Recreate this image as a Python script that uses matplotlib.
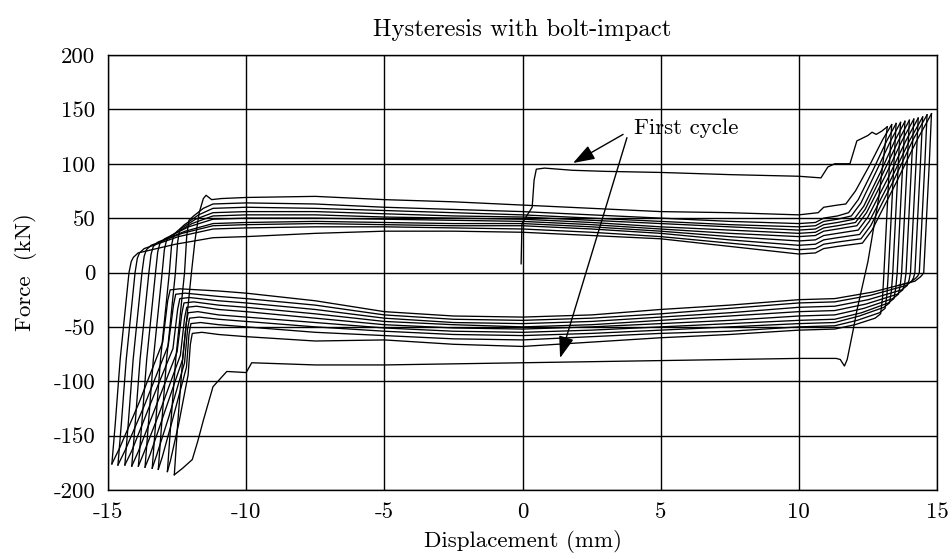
import matplotlib
matplotlib.use("Agg")
import matplotlib.pyplot as plt

plt.rcParams['font.family'] = ['cmr10', 'DejaVu Serif']
plt.rcParams['axes.unicode_minus'] = False

x_ticks = [-15, -10, -5, 0, 5, 10, 15]
y_ticks = [-200, -150, -100, -50, 0, 50, 100, 150, 200]
x_tick_labels = ['-15', '-10', '-5', '0', '5', '10', '15']
y_tick_labels = ['-200', '-150', '-100', '-50', '0', '50', '100', '150', '200']

# shared displacement points along the friction plateaus (mm)
plateau_x = [-10, -7.5, -5, -2.5, 0, 2.5, 5, 7.5, 10]

# first loading from rest, up to the first positive peak
first_x = [-0.05, -0.02, 0.15, 0.35, 0.42, 0.5, 0.8, 1.8, 3.0, 5.0, 7.5, 10.0, 10.8,
           11.05, 11.3, 11.85, 12.1, 12.5, 12.65, 12.8, 13.0, 13.2]
first_y = [8, 45, 52, 60, 85, 95, 96, 94, 93, 92, 90, 88.5, 87,
           97, 100, 100, 121, 126, 129, 127, 130, 134]

# first return (lower branch of the first cycle)
first_back_x = [13.2, 12.9, 12.5, 12.1, 11.95, 11.75, 11.65, 11.5, 11.35, 10, 7.5, 5, 2.5, 0,
                -2.5, -5, -7.5, -9.8, -10.0, -10.7, -11.2, -11.55, -11.75, -11.95, -12.3, -12.6]
first_back_y = [134, 70, 10, -35, -55, -80, -86, -80, -79, -79, -80, -81, -82, -83,
                -84, -85, -85, -83, -92, -91, -105, -136, -155, -172, -180, -186]

# upper branches (moving right), one row per cycle
up_left_x = [
    [-12.6, -12.48, -12.3, -12.1, -11.98, -11.85, -11.7, -11.55, -11.45, -11.25, -10.9],
    [-12.85, -12.73, -12.55, -12.35, -12.23, -12.15, -12.07, -11.9, -11.55, -11.2],
    [-13.18, -13.06, -12.88, -12.68, -12.56, -12.48, -12.4, -12.23, -11.72, -11.2],
    [-13.40, -13.28, -13.10, -12.90, -12.78, -12.70, -12.62, -12.45, -11.83, -11.2],
    [-13.66, -13.54, -13.36, -13.16, -13.04, -12.96, -12.88, -12.71, -11.96, -11.2],
    [-13.90, -13.78, -13.60, -13.40, -13.28, -13.20, -13.12, -12.95, -12.08, -11.2],
    [-14.14, -14.02, -13.84, -13.64, -13.52, -13.44, -13.36, -13.19, -12.2, -11.2],
    [-14.39, -14.27, -14.09, -13.89, -13.77, -13.69, -13.61, -13.44, -12.32, -11.2],
    [-14.64, -14.52, -14.34, -14.14, -14.02, -13.94, -13.86, -13.69, -12.45, -11.2],
    [-14.86, -14.74, -14.56, -14.36, -14.24, -14.16, -14.08, -13.91, -12.56, -11.2],
]
up_left_y = [
    [-186, -140, -80, -30, 0, 30, 55, 68, 71, 67, 68],
    [-183, -140, -80, -30, 0, 34, 48, 52, 59, 63],
    [-181, -140, -80, -30, 0, 28, 40, 44, 53, 59],
    [-180, -140, -80, -30, 0, 25, 35, 39, 49, 55],
    [-179, -140, -80, -30, 0, 21, 30, 34, 45, 52],
    [-178, -140, -80, -30, 0, 19, 27, 31, 42, 49],
    [-178, -140, -80, -30, 0, 17, 24, 28, 38, 45],
    [-177, -140, -80, -30, 0, 15, 21, 25, 36, 43],
    [-177, -140, -80, -30, 0, 13, 18, 22, 33, 40],
    [-176, -140, -80, -30, 0, 10, 14, 18, 26, 32],
]
up_mid_y = [
    [69, 70, 67, 65, 62, 59, 56, 55, 53],
    [64, 63, 60, 58, 56, 53, 50, 47, 45],
    [60, 59, 57, 55, 53, 50, 47, 44, 42],
    [56, 56, 54, 52, 51, 48, 45, 42, 39],
    [53, 53, 51, 50, 49, 46, 42, 39, 36],
    [50, 50, 49, 48, 47, 44, 40, 36, 33],
    [46, 47, 46, 45, 45, 42, 38, 33, 29],
    [44, 45, 44, 43, 43, 40, 36, 30, 25],
    [41, 42, 42, 41, 40, 37, 33, 27, 21],
    [33, 36, 38, 38, 37, 34, 31, 24, 17],
]
up_right_x = [
    [10.7, 10.9, 11.4, 11.7, 12.05, 12.57, 13.03, 13.36],
    [10.6, 10.9, 11.4, 11.8, 12.15, 12.70, 13.18, 13.52],
    [10.6, 10.9, 11.4, 11.9, 12.25, 12.82, 13.32, 13.68],
    [10.6, 10.9, 11.4, 12.0, 12.35, 12.95, 13.47, 13.84],
    [10.6, 10.9, 11.4, 12.05, 12.4, 13.04, 13.6, 14.0],
    [10.6, 10.9, 11.4, 12.1, 12.45, 13.13, 13.73, 14.16],
    [10.6, 10.9, 11.4, 12.15, 12.5, 13.23, 13.87, 14.32],
    [10.6, 10.9, 11.4, 12.2, 12.55, 13.32, 14.0, 14.48],
    [10.6, 10.9, 11.4, 12.25, 12.6, 13.42, 14.13, 14.64],
    [10.6, 10.9, 11.4, 12.3, 12.65, 13.51, 14.26, 14.8],
]
up_right_y = [
    [55, 60, 62, 63, 75, 99, 122, 136],
    [46, 50, 52, 55, 67, 95, 121, 137],
    [43, 47, 49, 52, 64, 94, 121, 138],
    [40, 44, 46, 49, 61, 92, 121, 139],
    [37, 41, 43, 46, 58, 91, 121, 140],
    [34, 38, 40, 43, 55, 89, 121, 141],
    [30, 34, 36, 39, 51, 87, 121, 142],
    [26, 30, 32, 35, 47, 85, 121, 143],
    [22, 26, 28, 31, 43, 84, 122, 145],
    [18, 22, 24, 27, 39, 82, 121, 146],
]

# lower branches (moving left), one row per cycle after the first
down_right_x = [
    [13.36, 13.28, 13.18, 13.08, 13.03, 12.96, 12.76, 12.03, 11.3],
    [13.52, 13.44, 13.34, 13.24, 13.19, 13.12, 12.92, 12.11, 11.3],
    [13.68, 13.6, 13.5, 13.4, 13.35, 13.28, 13.08, 12.19, 11.3],
    [13.84, 13.76, 13.66, 13.56, 13.51, 13.44, 13.24, 12.27, 11.3],
    [14.0, 13.92, 13.82, 13.72, 13.67, 13.6, 13.4, 12.35, 11.3],
    [14.16, 14.08, 13.98, 13.88, 13.83, 13.76, 13.56, 12.43, 11.3],
    [14.32, 14.24, 14.14, 14.04, 13.99, 13.92, 13.72, 12.51, 11.3],
    [14.48, 14.4, 14.3, 14.2, 14.15, 14.08, 13.88, 12.59, 11.3],
    [14.64, 14.56, 14.46, 14.36, 14.31, 14.24, 14.04, 12.67, 11.3],
]
down_right_y = [
    [136, 100, 50, 0, -23, -38, -42, -48, -52],
    [137, 100, 50, 0, -20, -33, -37, -44, -49],
    [138, 100, 50, 0, -17, -28, -32, -40, -46],
    [139, 100, 50, 0, -14, -24, -28, -37, -43],
    [140, 100, 50, 0, -12, -20, -24, -33, -39],
    [141, 100, 50, 0, -10, -16, -20, -29, -35],
    [142, 100, 50, 0, -7, -12, -16, -25, -31],
    [143, 100, 50, 0, -5, -8, -12, -21, -27],
    [145, 100, 50, 0, -3, -5, -9, -18, -24],
]
down_mid_y = [
    [-59, -63, -62, -66, -68, -64, -60, -57, -53],
    [-50, -55, -58, -61, -62, -59, -56, -54, -50],
    [-45, -50, -54, -57, -58, -56, -53, -50, -47],
    [-41, -46, -51, -54, -55, -53, -50, -47, -44],
    [-36, -42, -48, -51, -52, -50, -47, -44, -40],
    [-32, -38, -45, -48, -50, -48, -44, -40, -36],
    [-28, -34, -42, -46, -47, -45, -41, -37, -32],
    [-24, -30, -39, -43, -44, -42, -38, -33, -28],
    [-19, -26, -36, -40, -41, -39, -34, -30, -25],
]
down_left_x = [
    [-11.0, -11.6, -11.95, -12.02, -12.1, -12.44, -12.74, -12.85],
    [-11.0, -11.65, -12.0, -12.07, -12.16, -12.65, -13.04, -13.18],
    [-11.0, -11.7, -12.05, -12.12, -12.23, -12.79, -13.24, -13.40],
    [-11.0, -11.75, -12.1, -12.17, -12.3, -12.96, -13.47, -13.66],
    [-11.0, -11.8, -12.15, -12.23, -12.38, -13.11, -13.69, -13.90],
    [-11.0, -11.9, -12.25, -12.33, -12.5, -13.31, -13.91, -14.14],
    [-11.0, -12.05, -12.4, -12.48, -12.65, -13.5, -14.14, -14.39],
    [-11.0, -12.2, -12.55, -12.63, -12.82, -13.68, -14.37, -14.64],
    [-11.0, -12.4, -12.75, -12.84, -13.02, -13.88, -14.59, -14.86],
]
down_left_y = [
    [-57, -55, -56, -66, -94, -139, -173, -183],
    [-48, -46, -47, -57, -87, -134, -170, -181],
    [-43, -41, -42, -52, -83, -132, -168, -180],
    [-39, -36, -37, -47, -80, -129, -167, -179],
    [-34, -31, -32, -42, -76, -127, -165, -178],
    [-30, -27, -28, -38, -73, -126, -165, -178],
    [-26, -23, -24, -34, -70, -123, -164, -177],
    [-22, -19, -20, -30, -67, -122, -163, -177],
    [-17, -15, -16, -26, -64, -120, -162, -176],
]

# last unloading from the final positive peak
last_x = [14.8, 14.72, 14.62, 14.52, 14.47, 14.4, 14.2, 13.6]
last_y = [146, 100, 50, 0, -2, -4, -8, -12]

# annotation: label position and arrow tails / tips (data units)
label_xy = (4.05, 133)
arrow_tails = [(3.64, 127), (3.78, 124)]
arrow_tips = [(1.83, 100.7), (1.36, -78.6)]

fig = plt.figure(figsize=(9.52, 5.59), dpi=100)
ax = fig.add_axes([108 / 952, 1 - 490 / 559, 829 / 952, 435 / 559])

line = dict(color='black', lw=0.95)
ax.plot(first_x, first_y, **line)
ax.plot(first_back_x, first_back_y, **line)
for k in range(len(up_mid_y)):
    ax.plot(up_left_x[k] + plateau_x + up_right_x[k],
            up_left_y[k] + up_mid_y[k] + up_right_y[k], **line)
for k in range(len(down_mid_y)):
    ax.plot(down_right_x[k] + plateau_x[::-1] + down_left_x[k],
            down_right_y[k] + down_mid_y[k][::-1] + down_left_y[k], **line)
ax.plot(last_x, last_y, **line)

ax.set_xlim(-15, 15)
ax.set_ylim(-200, 200)
ax.set_xticks(x_ticks)
ax.set_xticklabels(x_tick_labels)
ax.set_yticks(y_ticks)
ax.set_yticklabels(y_tick_labels)
ax.tick_params(length=0, labelsize=16.5, pad=9)
ax.grid(True, color='black', lw=1.0)
for s in ax.spines.values():
    s.set_linewidth(1.0)

ax.set_title('Hysteresis with bolt-impact', fontsize=17.8, pad=14)
ax.set_xlabel('Displacement (mm)', fontsize=16.5, labelpad=6)
ax.set_ylabel('Force  (kN)', fontsize=16.5, labelpad=12)

ax.text(label_xy[0], label_xy[1], 'First cycle', fontsize=16.5, va='center', ha='left')
arrow = dict(arrowstyle='-|>,head_length=0.95,head_width=0.33', color='black',
             lw=1.0, mutation_scale=14, shrinkA=0, shrinkB=0)
for tail, tip in zip(arrow_tails, arrow_tips):
    ax.annotate('', xy=tip, xytext=tail, arrowprops=arrow)

fig.savefig('out.png', dpi=100)
